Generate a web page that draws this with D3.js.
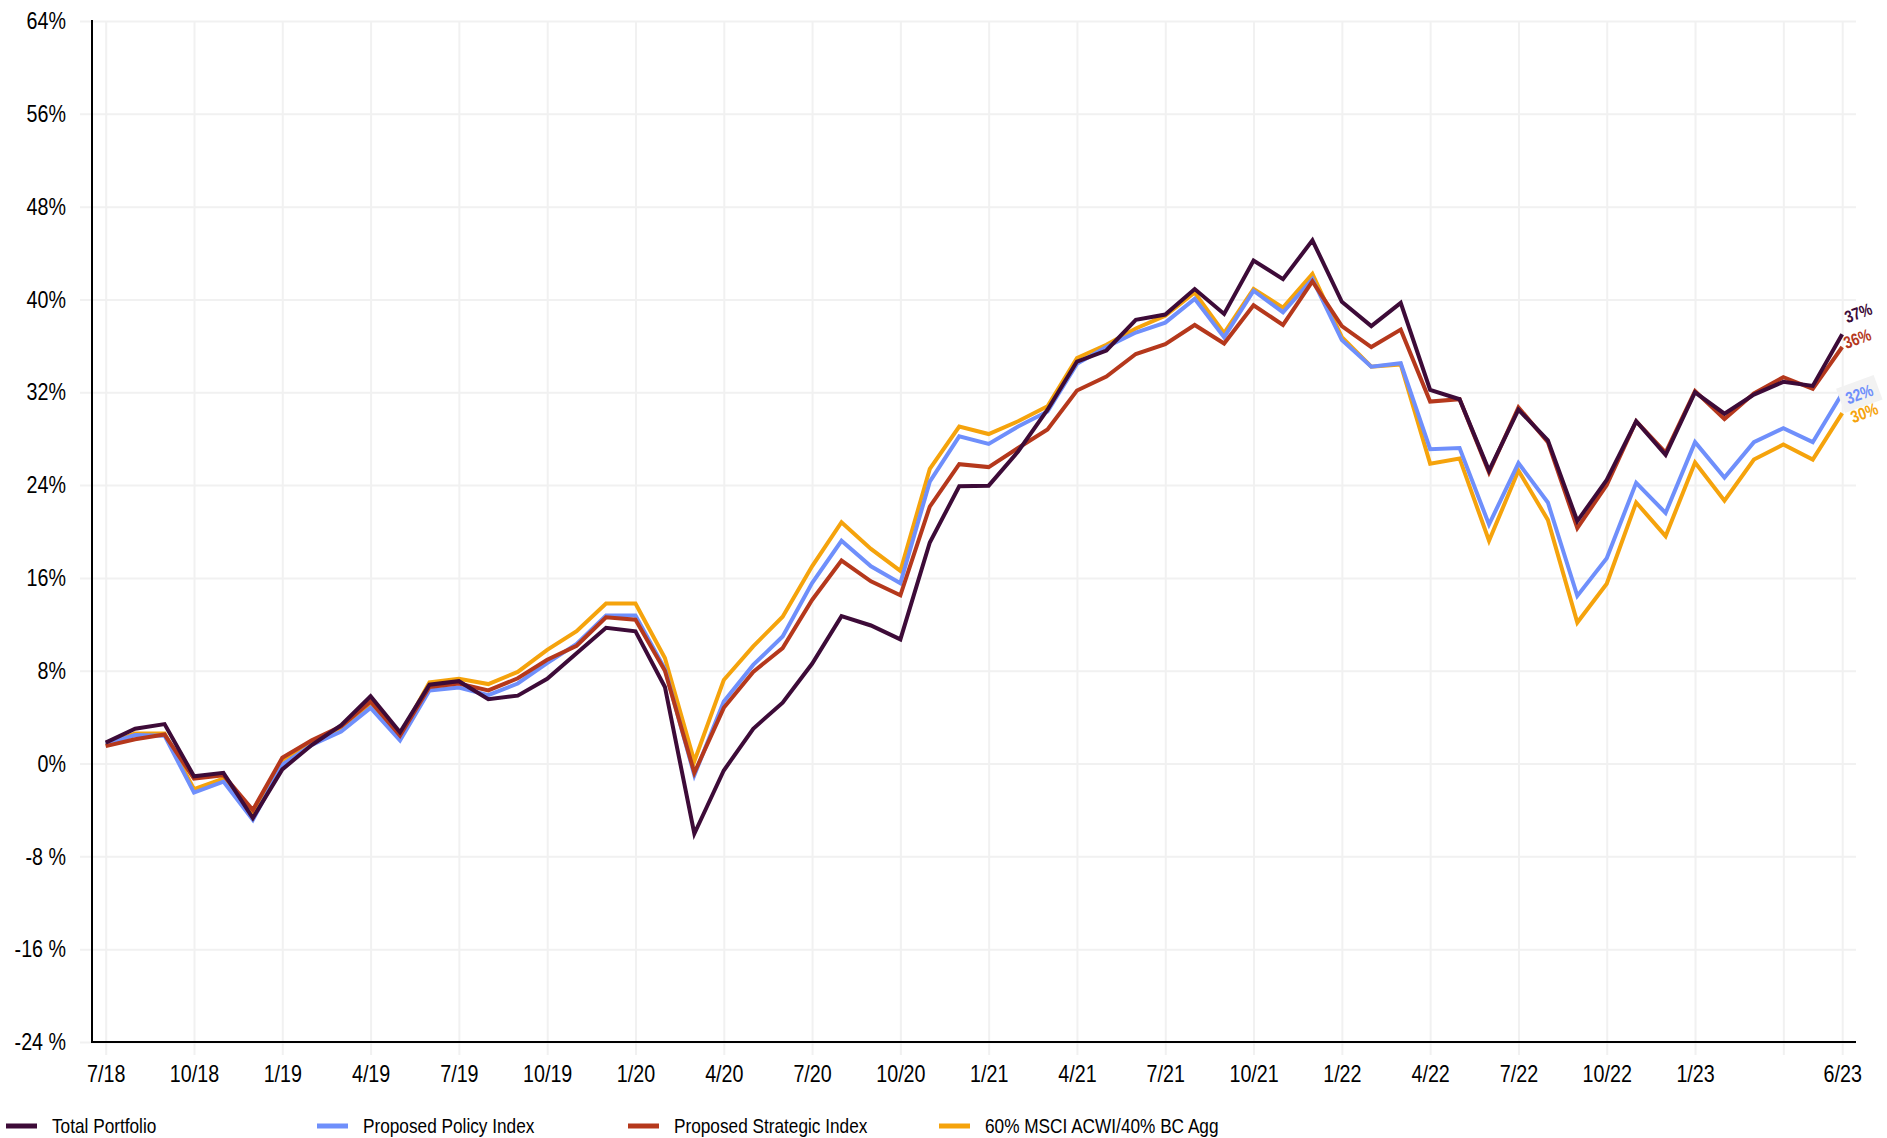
<!DOCTYPE html>
<html>
<head>
<meta charset="utf-8">
<script src="https://cdn.jsdelivr.net/npm/d3@7/dist/d3.min.js"></script>
<style>
    body { margin: 0; background: #ffffff; }
    text { font-family: "Liberation Sans Narrow", "Arial Narrow", "Liberation Sans", Arial, sans-serif; }
</style>
</head>
<body>
<div id="chart"></div>
<script>

// month labels, 7/18 through 6/23
var months = ["7/18", "8/18", "9/18", "10/18", "11/18", "12/18",
    "1/19", "2/19", "3/19", "4/19", "5/19", "6/19", "7/19", "8/19", "9/19", "10/19", "11/19", "12/19",
    "1/20", "2/20", "3/20", "4/20", "5/20", "6/20", "7/20", "8/20", "9/20", "10/20", "11/20", "12/20",
    "1/21", "2/21", "3/21", "4/21", "5/21", "6/21", "7/21", "8/21", "9/21", "10/21", "11/21", "12/21",
    "1/22", "2/22", "3/22", "4/22", "5/22", "6/22", "7/22", "8/22", "9/22", "10/22", "11/22", "12/22",
    "1/23", "2/23", "3/23", "4/23", "5/23", "6/23"];

// cumulative returns (%)
var totalPortfolio = [1.8, 3.0, 3.4, -1.1, -0.8, -4.7,
    -0.5, 1.6, 3.3, 5.8, 2.7, 6.8, 7.1, 5.55, 5.85, 7.3, 9.5, 11.7,
    11.4, 6.6, -6.05, -0.6, 3.0, 5.25, 8.6, 12.7, 11.9, 10.7, 19.05, 23.9,
    23.95, 26.9, 30.5, 34.65, 35.6, 38.25, 38.7, 40.9, 38.75, 43.35, 41.75, 45.1,
    39.8, 37.7, 39.7, 32.2, 31.4, 25.25, 30.5, 27.85, 20.9, 24.45, 29.5, 26.6,
    32.0, 30.15, 31.8, 32.9, 32.55, 37.0];

var policyIndex = [1.65, 2.45, 2.4, -2.5, -1.55, -4.85,
    -0.1, 1.6, 2.75, 4.8, 2.0, 6.3, 6.55, 5.9, 6.9, 8.65, 10.3, 12.75,
    12.75, 8.15, -1.0, 5.35, 8.5, 10.95, 15.55, 19.2, 17.0, 15.55, 24.3, 28.2,
    27.55, 29.05, 30.35, 34.45, 35.9, 37.15, 38.0, 40.05, 36.75, 40.75, 38.9, 41.75,
    36.5, 34.2, 34.5, 27.1, 27.2, 20.6, 25.9, 22.5, 14.45, 17.7, 24.2, 21.6,
    27.7, 24.65, 27.7, 28.9, 27.7, 31.9];

var strategicIndex = [1.5, 2.1, 2.5, -1.3, -1.0, -4.0,
    0.5, 2.0, 3.2, 5.35, 2.4, 6.6, 6.9, 6.3, 7.35, 8.95, 10.15, 12.6,
    12.4, 8.0, -0.8, 4.8, 7.9, 9.95, 14.1, 17.5, 15.7, 14.5, 22.15, 25.8,
    25.55, 27.2, 28.8, 32.15, 33.35, 35.3, 36.15, 37.8, 36.2, 39.5, 37.8, 41.55,
    37.7, 35.9, 37.4, 31.2, 31.4, 25.1, 30.7, 27.7, 20.3, 24.0, 29.5, 26.8,
    32.1, 29.7, 31.9, 33.3, 32.3, 35.9];

var msciBlend = [1.6, 2.6, 2.6, -2.2, -1.3, -4.3,
    0.3, 1.8, 3.0, 5.05, 2.4, 7.0, 7.3, 6.85, 7.9, 9.8, 11.4, 13.8,
    13.8, 9.1, 0.2, 7.2, 10.1, 12.65, 17.0, 20.8, 18.5, 16.6, 25.4, 29.05,
    28.4, 29.5, 30.8, 34.95, 36.1, 37.5, 38.6, 40.6, 37.1, 40.9, 39.3, 42.2,
    36.75, 34.2, 34.4, 25.85, 26.3, 19.2, 25.25, 21.0, 12.15, 15.5, 22.5, 19.6,
    25.95, 22.65, 26.2, 27.5, 26.2, 30.2];

var seriesNames = ["Total Portfolio", "Proposed Policy Index", "Proposed Strategic Index", "60% MSCI ACWI/40% BC Agg"];
var endLabels = ["37%", "32%", "36%", "30%"];

// axis ticks
var xTickMonths = ["7/18", "10/18", "1/19", "4/19", "7/19", "10/19", "1/20", "4/20", "7/20", "10/20",
    "1/21", "4/21", "7/21", "10/21", "1/22", "4/22", "7/22", "10/22", "1/23", "4/23", "6/23"];
var xTickLabels = ["7/18", "10/18", "1/19", "4/19", "7/19", "10/19", "1/20", "4/20", "7/20", "10/20",
    "1/21", "4/21", "7/21", "10/21", "1/22", "4/22", "7/22", "10/22", "1/23", "", "6/23"];
var yTicks = [-24, -16, -8, 0, 8, 16, 24, 32, 40, 48, 56, 64];


var svgWidth = 1887;
var svgHeight = 1138;

// plot area edges
var plotLeft = 92, plotRight = 1856, plotTop = 21, plotBottom = 1042;
var firstX = 105.7, lastX = 1842.2;

var colors = ["#3d0b38", "#6f8ffb", "#b5381c", "#f5a30c"];

// no narrow font installed, so squeeze the regular one to look like Arial Narrow
var narrowRatio = 0.82;
function narrow(selection) {
    selection.each(function () {
        var w = this.getComputedTextLength();
        if (w > 0) {
            d3.select(this)
                .attr("textLength", w * narrowRatio)
                .attr("lengthAdjust", "spacingAndGlyphs");
        }
    });
}

var svg = d3.select("#chart").append("svg")
    .attr("width", svgWidth)
    .attr("height", svgHeight);

var xScale = d3.scalePoint()
    .domain(months)
    .range([firstX, lastX]);

var yScale = d3.scaleLinear()
    .domain([-24, 64])
    .range([plotBottom, plotTop]);

// horizontal gridlines + y labels
var yAxis = d3.axisLeft(yScale)
    .tickValues(yTicks)
    .tickSize(-(plotRight - 80))
    .tickPadding(14)
    .tickFormat(d => d < 0 ? `${d} %` : `${d}%`);

var yAxisGroup = svg.append("g")
    .attr("transform", "translate(80, 0)")
    .call(yAxis);

yAxisGroup.select(".domain").remove();
yAxisGroup.selectAll("line").attr("stroke", "#f1f1f1").attr("stroke-width", 2);
yAxisGroup.selectAll("text")
    .attr("font-size", "24px")
    .attr("fill", "#000")
    .call(narrow);

// vertical gridlines + x labels
var xAxis = d3.axisBottom(xScale)
    .tickValues(xTickMonths)
    .tickSize(plotBottom + 13 - plotTop)
    .tickPadding(10)
    .tickFormat(d => xTickLabels[xTickMonths.indexOf(d)]);

var xAxisGroup = svg.append("g")
    .attr("transform", `translate(0, ${plotTop})`)
    .call(xAxis);

xAxisGroup.select(".domain").remove();
xAxisGroup.selectAll("line").attr("stroke", "#f1f1f1").attr("stroke-width", 2);
xAxisGroup.selectAll("text")
    .attr("font-size", "24px")
    .attr("fill", "#000")
    .call(narrow);

// axis lines
svg.append("line")
    .attr("x1", plotLeft).attr("x2", plotLeft)
    .attr("y1", plotTop - 1).attr("y2", plotBottom + 1)
    .attr("stroke", "#000").attr("stroke-width", 2);

svg.append("line")
    .attr("x1", plotLeft - 1).attr("x2", plotRight)
    .attr("y1", plotBottom).attr("y2", plotBottom)
    .attr("stroke", "#000").attr("stroke-width", 2);

// series lines, drawn orange first so the portfolio sits on top
var allSeries = [totalPortfolio, policyIndex, strategicIndex, msciBlend];
var drawOrder = [3, 1, 2, 0];

var line = d3.line()
    .x((d, i) => xScale(months[i]))
    .y(d => yScale(d));

drawOrder.forEach(function (s) {
    svg.append("path")
        .datum(allSeries[s])
        .attr("fill", "none")
        .attr("stroke", colors[s])
        .attr("stroke-width", 4)
        .attr("stroke-linejoin", "miter")
        .attr("d", line);
});

// end-of-line value labels
var labelOffsets = [[5, -11], [6, 11], [4, 2], [11, 10]];

allSeries.forEach(function (data, s) {
    var last = data.length - 1;
    var lx = xScale(months[last]) + labelOffsets[s][0];
    var ly = yScale(data[last]) + labelOffsets[s][1];
    var g = svg.append("g")
        .attr("transform", `translate(${lx}, ${ly}) rotate(-20)`);
    if (s === 1) {
        g.append("rect")
            .attr("x", -6).attr("y", -19)
            .attr("width", 40).attr("height", 26)
            .attr("fill", "#f2f2f2");
    }
    g.append("text")
        .attr("font-size", "17px")
        .attr("font-weight", "bold")
        .attr("fill", colors[s])
        .text(endLabels[s])
        .call(narrow);
});

// legend
var legend = svg.append("g")
    .attr("transform", "translate(0, 1126)");

seriesNames.forEach(function (name, i) {
    legend.append("line")
        .attr("x1", 6 + 311 * i).attr("x2", 37 + 311 * i)
        .attr("y1", 0).attr("y2", 0)
        .attr("stroke", colors[i])
        .attr("stroke-width", 5);
    legend.append("text")
        .attr("x", 52 + 311 * i)
        .attr("y", 0)
        .attr("dy", "0.35em")
        .attr("font-size", "21px")
        .attr("fill", "#000")
        .text(name)
        .call(narrow);
});

</script>
</body>
</html>
